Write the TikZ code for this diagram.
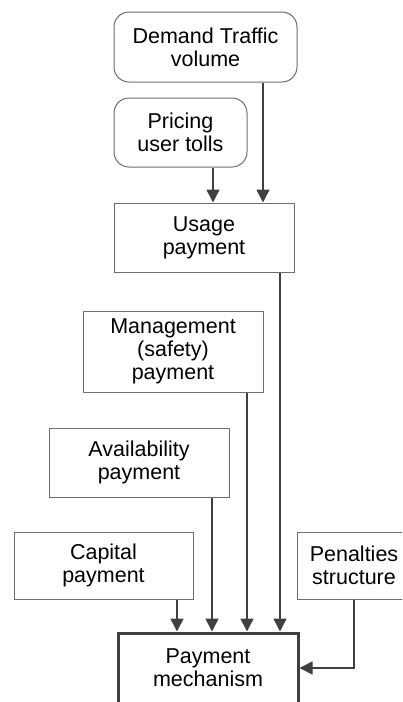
\documentclass[tikz,border=0pt]{standalone}
\usepackage{fontspec}
\setmainfont{Liberation Sans}
\usetikzlibrary{arrows.meta}
\definecolor{boxgray}{HTML}{6E6E6E}
\definecolor{linegray}{HTML}{404040}

\begin{document}
\begin{tikzpicture}[x=1pt, y=-1pt,
        box/.style={draw=boxgray, line width=1pt, fill=white, align=center, inner sep=0pt,
            font=\fontsize{21.5}{23}\selectfont},
        rbox/.style={box, rounded corners=15pt},
        arr/.style={draw=linegray, line width=1.6pt, -{Triangle[width=13pt, length=13pt]}}]
            \clip (0, 0) rectangle (402, 702);

            %nodes
            \node[rbox, minimum width=183pt, minimum height=70pt] (demand) at (205.5, 47) {Demand Traffic\\volume};
            \node[rbox, minimum width=133pt, minimum height=69pt] (pricing) at (180.5, 132.5) {Pricing\\user tolls};
            \node[box, minimum width=180pt, minimum height=69pt] (usage) at (204, 237.5) {Usage\\payment};
            \node[box, minimum width=180pt, minimum height=81pt] (management) at (173, 351.5) {Management\\(safety)\\payment};
            \node[box, minimum width=180pt, minimum height=69pt] (availability) at (139, 462.5) {Availability\\payment};
            \node[box, minimum width=179pt, minimum height=67pt] (capital) at (103.5, 565.5) {Capital\\payment};
            \node[box, minimum width=114pt, minimum height=67pt] (penalties) at (354, 565.5) {Penalties\\structure};
            \node[box, draw=linegray, line width=3pt, minimum width=180pt, minimum height=70pt] (payment) at (208, 668) {Payment\\mechanism};

            %edges
            \draw[arr] ([xshift=32.5pt]pricing.south) -- ([xshift=32.5pt]pricing.south |- usage.north);
            \draw[arr] ([xshift=57.5pt]demand.south) -- ([xshift=57.5pt]demand.south |- usage.north);
            \draw[arr] ([xshift=76pt]usage.south) -- ([xshift=76pt]usage.south |- payment.north);
            \draw[arr] ([xshift=74pt]management.south) -- ([xshift=74pt]management.south |- payment.north);
            \draw[arr] ([xshift=73pt]availability.south) -- ([xshift=73pt]availability.south |- payment.north);
            \draw[arr] ([xshift=73.5pt]capital.south) -- ([xshift=73.5pt]capital.south |- payment.north);
            \draw[arr] (penalties.south) |- (payment.east);
        \end{tikzpicture}
\end{document}
